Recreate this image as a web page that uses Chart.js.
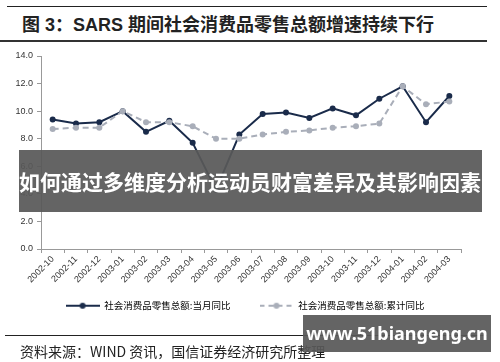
<!DOCTYPE html>
<html>
<head>
<meta charset="utf-8">
<script src="https://cdn.jsdelivr.net/npm/chart.js@4/dist/chart.umd.min.js"></script>
<style>
body { margin:0; width:500px; height:362px; overflow:hidden; background:#fff; position:relative; }
#chart { position:absolute; left:0; top:0; }
.hline { position:absolute; background:#222; }
#title { position:absolute; left:22px; top:12px; font:bold 18px "Liberation Sans","Noto Sans CJK SC",sans-serif; color:#222; white-space:nowrap; line-height:26px; }
#source { position:absolute; left:20px; top:341px; font:14px "Noto Sans CJK SC","Liberation Sans",sans-serif; color:#222; white-space:nowrap; line-height:20px; }
#banner { position:absolute; left:19px; top:150px; width:463px; height:62px; background:rgba(88,88,88,0.93); z-index:2; }
#banner span { position:absolute; left:0; top:16px; font:bold 21px "Noto Sans CJK SC",sans-serif; color:#fff; white-space:nowrap; line-height:30px; }
#mark { position:absolute; left:303px; top:315px; width:188px; height:37px; background:rgba(88,88,88,0.93); z-index:2; color:#fff; font:bold 18px "Noto Sans","Liberation Sans",sans-serif; text-align:center; line-height:37px; }
</style>
</head>
<body>
<div class="hline" style="left:7px;top:6px;width:480px;height:1px"></div>
<div id="title">图 3：SARS 期间社会消费品零售总额增速持续下行</div>
<div class="hline" style="left:0;top:40px;width:487px;height:1.5px;background:#333"></div>
<canvas id="chart" width="500" height="362"></canvas>
<div class="hline" style="left:5px;top:335px;width:482px;height:1px"></div>
<div id="source">资料来源：WIND 资讯，国信证券经济研究所整理</div>
<div id="banner"><span>如何通过多维度分析运动员财富差异及其影响因素</span></div>
<div id="mark">www.51biangeng.cn</div>
<script>
// категории и значения
var months = ['2002-10','2002-11','2002-12','2003-01','2003-02','2003-03','2003-04','2003-05','2003-06',
              '2003-07','2003-08','2003-09','2003-10','2003-11','2003-12','2004-01','2004-02','2004-03'];
var monthly = [9.4, 9.1, 9.2, 10.0, 8.5, 9.3, 7.7, 4.3, 8.3, 9.8, 9.9, 9.5, 10.2, 9.7, 10.9, 11.8, 9.2, 11.1];
var cumulative = [8.7, 8.8, 8.8, 10.0, 9.2, 9.2, 8.9, 8.0, 8.0, 8.3, 8.5, 8.6, 8.8, 8.9, 9.1, 11.8, 10.5, 10.7];
var seriesNames = ['社会消费品零售总额:当月同比', '社会消费品零售总额:累计同比'];
var yTicks = [0, 2, 4, 6, 8, 10, 12, 14];

var darkColor = '#1a2b4a';
var grayColor = '#a9aeb9';

// legend sample: line with a dot
function legendImg(color, dash) {
  var c = document.createElement('canvas');
  c.width = 34; c.height = 8;
  var g = c.getContext('2d');
  g.strokeStyle = color; g.lineWidth = 2;
  g.setLineDash(dash);
  g.beginPath(); g.moveTo(0, 4); g.lineTo(34, 4); g.stroke();
  g.fillStyle = color;
  g.beginPath(); g.arc(17, 4, 3, 0, Math.PI * 2); g.fill();
  return c;
}
var legendPics = [legendImg(darkColor, []), legendImg(grayColor, [5, 4])];

// сдвигаем легенду как в оригинале
var legendShift = {
  id: 'legendShift',
  afterLayout: function (ch) {
    ch.legend.left = 29;
    ch.legend.top = 272;
  }
};

var tickFont = { family: '"Liberation Sans", Arial, sans-serif', size: 9 };

var chart = new Chart(document.getElementById('chart'), {
  type: 'line',
  data: {
    labels: months,
    datasets: [{
      label: seriesNames[0],
      data: monthly,
      borderColor: darkColor,
      backgroundColor: darkColor,
      borderWidth: 2,
      pointRadius: 3,
      pointBorderWidth: 0,
      tension: 0,
      order: 2
    }, {
      label: seriesNames[1],
      data: cumulative,
      borderColor: grayColor,
      backgroundColor: grayColor,
      borderWidth: 2,
      borderDash: [6, 4],
      pointRadius: 3,
      pointBorderWidth: 0,
      tension: 0,
      order: 1
    }]
  },
  plugins: [legendShift],
  options: {
    responsive: false,
    animation: false,
    layout: { padding: { left: 0, right: 39, top: 56, bottom: 24.5 } },
    plugins: {
      tooltip: { enabled: false },
      legend: {
        position: 'bottom',
        labels: {
          usePointStyle: true,
          pointStyleWidth: 34,
          padding: 29,
          color: '#333',
          font: { family: '"Noto Sans CJK SC", sans-serif', size: 9.5 },
          generateLabels: function (ch) {
            return ch.data.datasets.map(function (ds, i) {
              return { text: ds.label, pointStyle: legendPics[i], fillStyle: ds.borderColor,
                       strokeStyle: ds.borderColor, lineWidth: 0, datasetIndex: i, hidden: false };
            });
          }
        }
      }
    },
    scales: {
      x: {
        offset: true,
        grid: { offset: true, drawOnChartArea: false, tickLength: 4, color: '#999' },
        border: { color: '#999' },
        ticks: { minRotation: 45, maxRotation: 45, autoSkip: false, font: tickFont, color: '#333', padding: 1 },
        afterFit: function (s) { s.height = 40; }
      },
      y: {
        min: yTicks[0],
        max: yTicks[yTicks.length - 1],
        afterBuildTicks: function (s) { s.ticks = yTicks.map(function (v) { return { value: v }; }); },
        grid: { drawOnChartArea: false, tickLength: 4, color: '#999' },
        border: { color: '#999' },
        ticks: { font: tickFont, color: '#333', padding: 4, callback: function (v) { return v.toFixed(1); } },
        afterFit: function (s) { s.width = 41; }
      }
    }
  }
});
</script>
</body>
</html>
